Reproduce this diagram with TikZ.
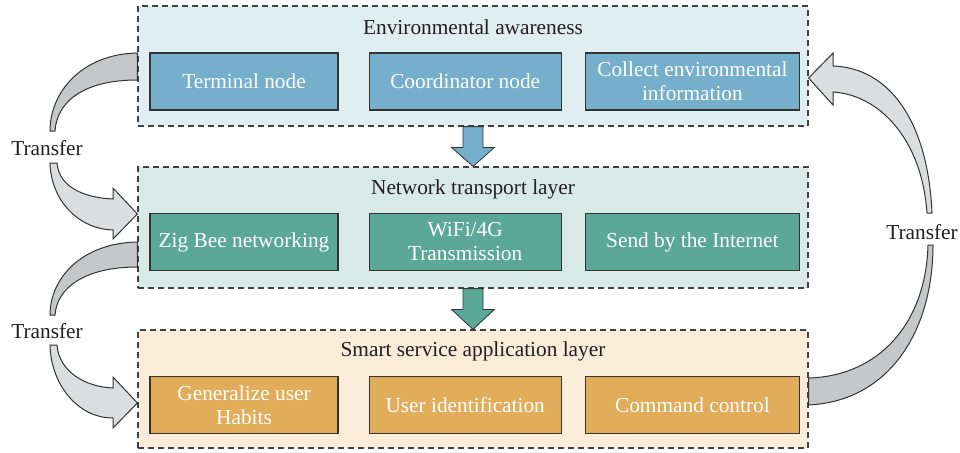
\documentclass[tikz,border=0pt]{standalone}
\usepackage{fontspec}
\setmainfont{Liberation Serif}
\usetikzlibrary{positioning,calc}

\definecolor{envpanel}{HTML}{E0EDF1}
\definecolor{envbox}{HTML}{76AFCB}
\definecolor{netpanel}{HTML}{D8EAE5}
\definecolor{netbox}{HTML}{5BA798}
\definecolor{apppanel}{HTML}{FAECD8}
\definecolor{appbox}{HTML}{E2AD5B}
\definecolor{tailgray}{HTML}{C6C7C9}
\definecolor{headgray}{HTML}{DCDDDF}
\definecolor{ink}{HTML}{231F20}

\begin{document}
\begin{tikzpicture}[x=0.75pt,y=-0.75pt,font=\fontsize{16}{18}\selectfont,
                    line join=miter]
  \tikzstyle{panel}=[draw=black!75,dash pattern=on 4.5pt off 3pt,line width=0.9pt,
                     minimum width=502.5pt,inner sep=0pt]
  \tikzstyle{box}=[draw=black!80,line width=0.9pt,minimum height=42.75pt,
                   inner sep=2pt,text=white,align=center]
  \tikzstyle{title}=[text=ink,inner sep=0pt]
  \tikzstyle{transfer}=[text=ink,inner sep=0pt]
  \tikzstyle{tail}=[fill=tailgray,draw=black!80,line width=0.75pt]
  \tikzstyle{head}=[fill=headgray,draw=black!80,line width=0.75pt]
  \tikzstyle{blockarrow}=[draw=black!80,line width=0.6pt]

  \useasboundingbox (0,0) rectangle (960,453);

  % layers
  \node[panel,fill=envpanel,minimum height=90pt]    (env) at (473,66)    {};
  \node[panel,fill=netpanel,minimum height=90.75pt] (net) at (473,227.5) {};
  \node[panel,fill=apppanel,minimum height=88.5pt]  (app) at (473,389)   {};

  \node[title] (envtitle) at ($(env.north)+(0,22)$) {Environmental awareness};
  \node[title] (nettitle) at ($(net.north)+(0,23)$) {Network transport layer};
  \node[title] (apptitle) at ($(app.north)+(0,22)$) {Smart service application layer};

  \node[box,fill=envbox,minimum width=141pt]   (terminal) at (244,81.5)      {Terminal node};
  \node[box,fill=envbox,minimum width=144pt]   (coordinator) [right=22.5pt of terminal] {Coordinator node};
  \node[box,fill=envbox,minimum width=160.5pt] (collect) [right=17.25pt of coordinator] {Collect environmental\\information};

  \node[box,fill=netbox,minimum width=141pt]   (zigbee) at (244,242)         {Zig Bee networking};
  \node[box,fill=netbox,minimum width=144pt]   (wifi) [right=22.5pt of zigbee] {WiFi/4G\\Transmission};
  \node[box,fill=netbox,minimum width=160.5pt] (internet) [right=17.25pt of wifi] {Send by the Internet};

  \node[box,fill=appbox,minimum width=141pt]   (habits) at (244,405)         {Generalize user\\Habits};
  \node[box,fill=appbox,minimum width=144pt]   (userid) [right=22.5pt of habits] {User identification};
  \node[box,fill=appbox,minimum width=160.5pt] (command) [right=17.25pt of userid] {Command control};

  % arrows between layers
  \filldraw[blockarrow,fill=envbox] ($(env.south)+(-10,0)$) -- ($(net.north)+(-10,-19)$)
      -- ($(net.north)+(-21.5,-19)$) -- (net.north) -- ($(net.north)+(21.5,-19)$)
      -- ($(net.north)+(10,-19)$) -- ($(env.south)+(10,0)$) -- cycle;
  \filldraw[blockarrow,fill=netbox] ($(net.south)+(-10,0)$) -- ($(app.north)+(-10,-20)$)
      -- ($(app.north)+(-21.5,-20)$) -- (app.north) -- ($(app.north)+(21.5,-20)$)
      -- ($(app.north)+(10,-20)$) -- ($(net.south)+(10,0)$) -- cycle;

  % transfer arrows, left
  \filldraw[tail] ($(env.west)+(0,-13)$) .. controls (82,54) and (50,92) .. (50,131)
      -- (55,131) .. controls (57,100) and (86,80) .. ($(env.west)+(0,14)$) -- cycle;
  \node[transfer] (transfer1) at (47,148) {Transfer};
  \filldraw[head] (50,163) .. controls (51,200) and (78,229) .. (113,230) -- (113,239)
      -- ($(net.west)+(0,-13.5)$) -- (113,188) -- (113,199)
      .. controls (86,198) and (59,188) .. (57,163) -- cycle;

  \filldraw[tail] ($(net.west)+(0,14.5)$) .. controls (82,243) and (50,278) .. (50,315)
      -- (55,315) .. controls (57,287) and (86,267) .. ($(net.west)+(0,39.5)$) -- cycle;
  \node[transfer] (transfer2) at (47,331) {Transfer};
  \filldraw[head] (50,345) .. controls (51,385) and (78,418) .. (113,418) -- (113,428)
      -- ($(app.west)+(0,14)$) -- (113,377) -- (113,388)
      .. controls (86,387) and (59,372) .. (57,345) -- cycle;

  % transfer arrow, right
  \filldraw[tail] ($(app.east)+(0,16)$) .. controls (890,401) and (933,330) .. (933,245)
      -- (928,245) .. controls (926,322) and (880,376) .. ($(app.east)+(0,-11)$) -- cycle;
  \node[transfer] (transfer3) at (922,232) {Transfer};
  \filldraw[head] (932,213) .. controls (928,122) and (890,68) .. (833,66) -- (833,53)
      -- ($(env.east)+(0,12)$) -- (833,105) -- (833,92)
      .. controls (880,95) and (922,140) .. (927,213) -- cycle;
\end{tikzpicture}
\end{document}
